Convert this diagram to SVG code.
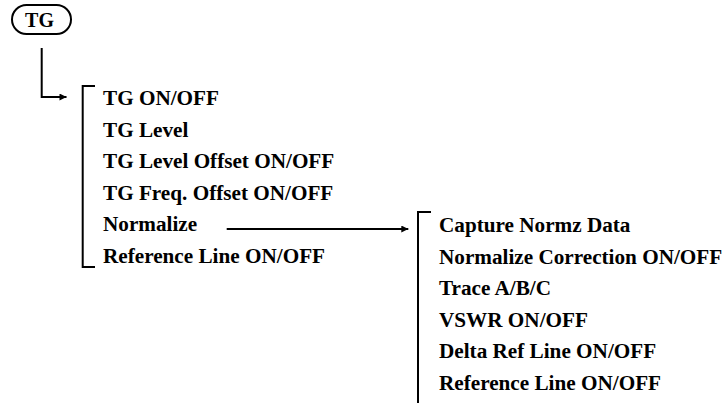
<svg xmlns="http://www.w3.org/2000/svg" width="728" height="403" viewBox="0 0 728 403">
<style>
  .t { font-family: "Liberation Serif", "Times New Roman", serif; font-weight: bold; font-size: 21.2px; fill: #000; }
  .ln { fill: none; stroke: #000; stroke-width: 2; }
</style>
<defs>
  <marker id="ah" viewBox="0 0 10 10" refX="10" refY="5" markerWidth="8" markerHeight="7" markerUnits="userSpaceOnUse" orient="auto">
    <path d="M0,0 L10,5 L0,10 z" fill="#000"/>
  </marker>
</defs>
<rect width="728" height="403" fill="#fff"/>
<g id="tg">
  <rect x="12" y="5" width="59" height="29" rx="14.5" ry="14.5" class="ln"/>
  <text x="39.5" y="27" class="t" text-anchor="middle" style="font-size:20px">TG</text>
</g>
<g id="connectors">
  <path d="M41.7 48 V97 H66.5" class="ln" marker-end="url(#ah)"/>
  <path d="M226.7 229 H408.3" class="ln" marker-end="url(#ah)"/>
</g>
<g id="menu1">
  <path d="M95 86 H82.7 V267 H95" class="ln"/>
  <text x="103" y="105" class="t">TG ON/OFF</text>
  <text x="103" y="136.5" class="t">TG Level</text>
  <text x="103" y="168" class="t">TG Level Offset ON/OFF</text>
  <text x="103" y="199.5" class="t">TG Freq. Offset ON/OFF</text>
  <text x="103" y="231" class="t">Normalize</text>
  <text x="103" y="262.5" class="t">Reference Line ON/OFF</text>
</g>
<g id="menu2">
  <path d="M431 212 H418 V403" class="ln"/>
  <text x="439" y="232" class="t">Capture Normz Data</text>
  <text x="439" y="263.5" class="t">Normalize Correction ON/OFF</text>
  <text x="439" y="295" class="t">Trace A/B/C</text>
  <text x="439" y="326.5" class="t">VSWR ON/OFF</text>
  <text x="439" y="358" class="t">Delta Ref Line ON/OFF</text>
  <text x="439" y="389.5" class="t">Reference Line ON/OFF</text>
</g>
</svg>
